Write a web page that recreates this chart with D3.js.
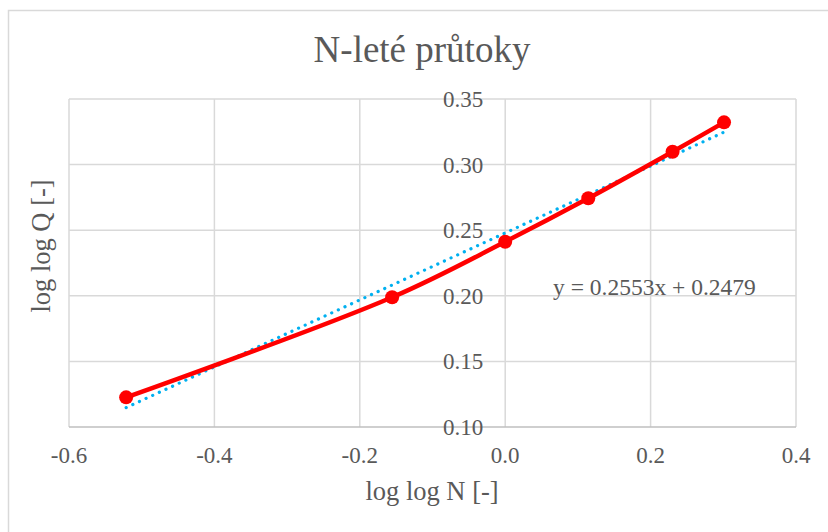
<!DOCTYPE html>
<html>
<head>
<meta charset="utf-8">
<script src="https://cdn.jsdelivr.net/npm/d3@7"></script>
<style>
  body { margin: 0; background: #fff; }
</style>
</head>
<body>
<svg id="chart" width="828" height="532"></svg>
<script>
// log log N for N = 2, 5, 10, 20, 50, 100
const xValues = [-0.5214, -0.1555, 0.0, 0.1143, 0.2302, 0.3010];
const yValues = [0.1226, 0.1989, 0.2412, 0.2743, 0.3098, 0.3322];
const xTicks = [-0.6, -0.4, -0.2, 0.0, 0.2, 0.4];
const yTicks = [0.10, 0.15, 0.20, 0.25, 0.30, 0.35];
const slope = 0.2553, intercept = 0.2479;

const font = "'Liberation Serif', 'DejaVu Serif', 'Times New Roman', serif";
const svg = d3.select("#chart")
  .attr("font-family", font).attr("fill", "#595959");
const plotL = 69, plotR = 796, plotT = 99, plotB = 427;

const x = d3.scaleLinear().domain([-0.6, 0.4]).range([plotL, plotR]);
const y = d3.scaleLinear().domain([0.10, 0.35]).range([plotB, plotT]);

// outer chart border
svg.append("rect")
  .attr("x", 8.5).attr("y", 10.5).attr("width", 900).attr("height", 600)
  .attr("fill", "none").attr("stroke", "#d9d9d9").attr("stroke-width", 1.5);

// gridlines
svg.append("g").selectAll("line").data(xTicks).join("line")
  .attr("x1", d => x(d)).attr("x2", d => x(d))
  .attr("y1", plotT).attr("y2", plotB)
  .attr("stroke", "#d9d9d9").attr("stroke-width", 1.5);
svg.append("g").selectAll("line").data(yTicks).join("line")
  .attr("x1", plotL).attr("x2", plotR)
  .attr("y1", d => y(d)).attr("y2", d => y(d))
  .attr("stroke", d => d === 0.10 ? "#bfbfbf" : "#d9d9d9").attr("stroke-width", 1.5);

// tick labels
svg.append("g").selectAll("text").data(xTicks).join("text")
  .attr("x", d => x(d)).attr("y", 463)
  .attr("text-anchor", "middle").attr("font-size", 23)
  .text(d => d3.format(".1f")(d).replace("−", "-"));
svg.append("g").selectAll("text").data(yTicks).join("text")
  .attr("x", x(0) - 22).attr("y", d => y(d) + 8)
  .attr("text-anchor", "end").attr("font-size", 23)
  .text(d => d3.format(".2f")(d));

// trendline
const trend = [d3.min(xValues), d3.max(xValues)].map(v => [v, slope * v + intercept]);
svg.append("path")
  .attr("d", d3.line().x(d => x(d[0])).y(d => y(d[1]))(trend))
  .attr("fill", "none").attr("stroke", "#00b0f0").attr("stroke-width", 3.2)
  .attr("stroke-linecap", "round").attr("stroke-dasharray", "0.1 7.2");

// data line
const pts = xValues.map((v, i) => [v, yValues[i]]);
svg.append("path")
  .attr("d", d3.line().curve(d3.curveCatmullRom.alpha(0.5)).x(d => x(d[0])).y(d => y(d[1]))(pts))
  .attr("fill", "none").attr("stroke", "#ff0000").attr("stroke-width", 4.5);
svg.append("g").selectAll("circle").data(pts).join("circle")
  .attr("cx", d => x(d[0])).attr("cy", d => y(d[1])).attr("r", 7)
  .attr("fill", "#ff0000");

// equation label
svg.append("text").attr("x", 553).attr("y", 295).attr("font-size", 23.5)
  .text(`y = ${slope}x + ${intercept}`);

// title and axis titles
svg.append("text").attr("x", 422).attr("y", 62).attr("text-anchor", "middle")
  .attr("font-size", 37).text("N-leté průtoky");
svg.append("text").attr("x", 432).attr("y", 500).attr("text-anchor", "middle")
  .attr("font-size", 26.5).text("log log N [-]");
svg.append("text").attr("transform", "translate(50,246) rotate(-90)")
  .attr("text-anchor", "middle").attr("font-size", 26.5).text("log log Q [-]");
</script>
</body>
</html>
